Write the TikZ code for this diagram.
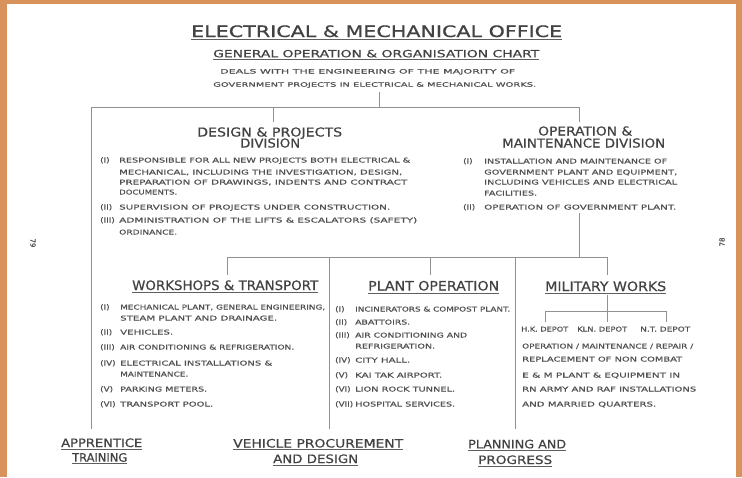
\documentclass[tikz,border=0pt]{standalone}
\usepackage{fontspec}
\setmainfont{DejaVu Sans}
\newfontfamily\lett{DejaVu Sans}[FakeBold=0.5]
\newfontfamily\lettH{DejaVu Sans}[FakeBold=0.8]
\usepackage{graphicx}
\definecolor{framec}{RGB}{216,146,92}
\definecolor{ink}{RGB}{80,80,80}
\definecolor{inkdark}{RGB}{66,66,66}
\definecolor{rulec}{RGB}{145,145,145}
\newcommand\fitto[2]{\resizebox{#1pt}{\height}{#2}}
\newcommand\lb[1]{\scalebox{1.25}[1]{#1}}
\begin{document}
\begin{tikzpicture}[x=1pt,y=-1pt,
  txt/.style={inner sep=0pt, anchor=base west, text=ink},
  ttl/.style={txt, text=inkdark, font=\lett\fontsize{15.8}{16}\selectfont},
  sub/.style={txt, text=inkdark, font=\lett\fontsize{10}{11}\selectfont},
  deal/.style={txt, font=\lett\fontsize{6}{7}\selectfont},
  div/.style={txt, text=inkdark, font=\lett\fontsize{12.3}{13}\selectfont},
  sec/.style={txt, text=inkdark, font=\lett\fontsize{13}{14}\selectfont},
  item/.style={txt, font=\lett\fontsize{6.6}{7}\selectfont},
  lab/.style={txt, font=\lett\fontsize{7}{7}\selectfont},
  bot/.style={txt, text=inkdark, font=\lett\fontsize{11.6}{12}\selectfont},
  pg/.style={inner sep=0pt, text=ink, font=\lett\fontsize{7}{7}\selectfont},
  conn/.style={draw=rulec, line width=1pt},
  uline/.style={draw=inkdark!85, line width=0.9pt}
]
\useasboundingbox (0,0) rectangle (742,477);
\fill[white] (0,0) rectangle (742,477);
\fill[framec] (0,0) rectangle (6.5,477);
\fill[framec] (0,0) rectangle (742,3.5);
\fill[framec] (736,0) rectangle (742,477);

% ---------- header ----------
\node[ttl] (t1) at (191,37) {\fitto{371}{ELECTRICAL \& MECHANICAL OFFICE}};
\node[sub] (t2) at (213,57.3) {\fitto{326}{GENERAL OPERATION \& ORGANISATION CHART}};
\node[deal] (t3) at (220,73.5) {\fitto{295}{DEALS WITH THE ENGINEERING OF THE MAJORITY OF}};
\node[deal] (t4) at (213,86.7) {\fitto{323}{GOVERNMENT PROJECTS IN ELECTRICAL \& MECHANICAL WORKS.}};
\draw[uline] ([yshift=-2.5pt]t1.base west) -- ([yshift=-2.5pt]t1.base east);
\draw[uline] ([yshift=-2.2pt]t2.base west) -- ([yshift=-2.2pt]t2.base east);

% ---------- design & projects ----------
\node[div] (d1) at (197,136.5) {\fitto{145}{DESIGN \& PROJECTS}};
\node[div] (d2) at (240,147.5) {\fitto{60}{DIVISION}};
\node[lab] (dl1) at (100,162.5) {\lb{(I)}};
\node[item] (dt1) at (119,162.5) {\fitto{291}{RESPONSIBLE FOR ALL NEW PROJECTS BOTH ELECTRICAL \&}};
\node[item] (dt1b) at (119,174.5) {\fitto{283}{MECHANICAL, INCLUDING THE INVESTIGATION, DESIGN,}};
\node[item] (dt1c) at (119,184.5) {\fitto{288}{PREPARATION OF DRAWINGS, INDENTS AND CONTRACT}};
\node[item] (dt1d) at (119,194.5) {\fitto{58}{DOCUMENTS.}};
\node[lab] (dl2) at (100,209.5) {\lb{(II)}};
\node[item] (dt2) at (119,209.5) {\fitto{271}{SUPERVISION OF PROJECTS UNDER CONSTRUCTION.}};
\node[lab] (dl3) at (100,222.5) {\lb{(III)}};
\node[item] (dt3) at (119,222.5) {\fitto{298}{ADMINISTRATION OF THE LIFTS \& ESCALATORS (SAFETY)}};
\node[item] (dt3b) at (119,234.5) {\fitto{58}{ORDINANCE.}};

% ---------- operation & maintenance ----------
\node[div] (o1) at (538,135.5) {\fitto{94}{OPERATION \&}};
\node[div] (o2) at (502,147.5) {\fitto{163}{MAINTENANCE DIVISION}};
\node[lab] (ol1) at (463,163.5) {\lb{(I)}};
\node[item] (ot1) at (484,163.5) {\fitto{183}{INSTALLATION AND MAINTENANCE OF}};
\node[item] (ot1b) at (484,174.5) {\fitto{193}{GOVERNMENT PLANT AND EQUIPMENT,}};
\node[item] (ot1c) at (484,184.5) {\fitto{193}{INCLUDING VEHICLES AND ELECTRICAL}};
\node[item] (ot1d) at (484,195.5) {\fitto{53}{FACILITIES.}};
\node[lab] (ol2) at (463,209.5) {\lb{(II)}};
\node[item] (ot2) at (484,209.5) {\fitto{192}{OPERATION OF GOVERNMENT PLANT.}};

% ---------- workshops & transport ----------
\node[sec] (w0) at (132,290) {\fitto{186}{WORKSHOPS \& TRANSPORT}};
\draw[uline] ([yshift=-2.5pt]w0.base west) -- ([yshift=-2.5pt]w0.base east);
\node[lab] (wl1) at (100,309.5) {\lb{(I)}};
\node[item] (wt1) at (120,309.5) {\fitto{205}{MECHANICAL PLANT, GENERAL ENGINEERING,}};
\node[item] (wt1b) at (120,320.5) {\fitto{157}{STEAM PLANT AND DRAINAGE.}};
\node[lab] (wl2) at (100,334.5) {\lb{(II)}};
\node[item] (wt2) at (120,334.5) {\fitto{53}{VEHICLES.}};
\node[lab] (wl3) at (100,349.5) {\lb{(III)}};
\node[item] (wt3) at (120,349.5) {\fitto{174}{AIR CONDITIONING \& REFRIGERATION.}};
\node[lab] (wl4) at (100,365.5) {\lb{(IV)}};
\node[item] (wt4) at (120,365.5) {\fitto{152}{ELECTRICAL INSTALLATIONS \&}};
\node[item] (wt4b) at (120,376.5) {\fitto{68}{MAINTENANCE.}};
\node[lab] (wl5) at (100,391.5) {\lb{(V)}};
\node[item] (wt5) at (120,391.5) {\fitto{87}{PARKING METERS.}};
\node[lab] (wl6) at (100,406.5) {\lb{(VI)}};
\node[item] (wt6) at (120,406.5) {\fitto{93}{TRANSPORT POOL.}};

% ---------- plant operation ----------
\node[sec] (p0) at (368,290.5) {\fitto{131}{PLANT OPERATION}};
\draw[uline] ([yshift=-2.5pt]p0.base west) -- ([yshift=-2.5pt]p0.base east);
\node[lab] (pl1) at (335,311.5) {\lb{(I)}};
\node[item] (pt1) at (355,311.5) {\fitto{155}{INCINERATORS \& COMPOST PLANT.}};
\node[lab] (pl2) at (335,324.5) {\lb{(II)}};
\node[item] (pt2) at (355,324.5) {\fitto{55}{ABATTOIRS.}};
\node[lab] (pl3) at (335,337.5) {\lb{(III)}};
\node[item] (pt3) at (355,337.5) {\fitto{112}{AIR CONDITIONING AND}};
\node[item] (pt3b) at (355,348.5) {\fitto{80}{REFRIGERATION.}};
\node[lab] (pl4) at (335,362.5) {\lb{(IV)}};
\node[item] (pt4) at (355,362.5) {\fitto{55}{CITY HALL.}};
\node[lab] (pl5) at (335,377.5) {\lb{(V)}};
\node[item] (pt5) at (355,377.5) {\fitto{87}{KAI TAK AIRPORT.}};
\node[lab] (pl6) at (335,391.5) {\lb{(VI)}};
\node[item] (pt6) at (355,391.5) {\fitto{100}{LION ROCK TUNNEL.}};
\node[lab] (pl7) at (335,406.5) {\lb{(VII)}};
\node[item] (pt7) at (355,406.5) {\fitto{100}{HOSPITAL SERVICES.}};

% ---------- military works ----------
\node[sec] (m0) at (545,291) {\fitto{121}{MILITARY WORKS}};
\draw[uline] ([yshift=-2.5pt]m0.base west) -- ([yshift=-2.5pt]m0.base east);
\node[item] (md1) at (521,331.5) {\fitto{47}{H.K. DEPOT}};
\node[item] (md2) at (577,331.5) {\fitto{50}{KLN. DEPOT}};
\node[item] (md3) at (640,331.5) {\fitto{50}{N.T. DEPOT}};
\node[item] (mt1) at (522,348.5) {\fitto{171}{OPERATION / MAINTENANCE / REPAIR /}};
\node[item] (mt2) at (522,361.5) {\fitto{160}{REPLACEMENT OF NON COMBAT}};
\node[item] (mt3) at (522,377.5) {\fitto{158}{E \& M PLANT \& EQUIPMENT IN}};
\node[item] (mt4) at (522,391.5) {\fitto{174}{RN ARMY AND RAF INSTALLATIONS}};
\node[item] (mt5) at (522,406.5) {\fitto{134}{AND MARRIED QUARTERS.}};

% ---------- bottom units ----------
\node[bot] (b1) at (61,447) {\fitto{81}{APPRENTICE}};
\node[bot] (b2) at (72,461.7) {\fitto{55}{TRAINING}};
\node[bot] (b3) at (233,447.5) {\fitto{170}{VEHICLE PROCUREMENT}};
\node[bot] (b4) at (273,463) {\fitto{85}{AND DESIGN}};
\node[bot] (b5) at (468,448.3) {\fitto{98}{PLANNING AND}};
\node[bot] (b6) at (478,464) {\fitto{74}{PROGRESS}};
\foreach \n in {b1,b2,b3,b4,b5,b6}
  \draw[uline] ([yshift=-2pt]\n.base west) -- ([yshift=-2pt]\n.base east);

% page numbers
\node[pg, rotate=-90] (pgL) at (33,243) {79};
\node[pg, rotate=90] (pgR) at (722,242) {78};

% ---------- connectors ----------
\coordinate (top) at (379,92);
\coordinate (jtop) at (379,107);
\coordinate (jL) at (91,107);
\coordinate (jD) at (273,107);
\coordinate (jO) at (579,107);
\coordinate (eD) at (273,122);
\coordinate (eO) at (579,122);
\coordinate (eAT) at (91,429);
\coordinate (oBot) at (579,213);
\coordinate (j2) at (579,257);
\coordinate (j2L) at (227,257);
\coordinate (j2P) at (430,257);
\coordinate (j2M) at (607,257);
\coordinate (j2V) at (329,257);
\coordinate (j2Pl) at (515,257);
\coordinate (eW) at (227,275);
\coordinate (eP) at (430,275);
\coordinate (eM) at (607,275);
\coordinate (eV) at (329,429);
\coordinate (ePl) at (515,429);
\coordinate (mS) at (607,295);
\coordinate (mJ) at (607,311);
\coordinate (mJL) at (545,311);
\coordinate (mJR) at (666,311);
\coordinate (mE1) at (545,322);
\coordinate (mE2) at (607,322);
\coordinate (mE3) at (666,322);

\draw[conn] (top) -- (jtop);
\draw[conn] (jL) -- (jO);
\draw[conn] (jD) -- (eD);
\draw[conn] (jO) -- (eO);
\draw[conn] (jL) -- (eAT);
\draw[conn] (oBot) -- (j2);
\draw[conn] (j2L) -- (j2M);
\draw[conn] (j2L) -- (eW);
\draw[conn] (j2P) -- (eP);
\draw[conn] (j2M) -- (eM);
\draw[conn] (j2V) -- (eV);
\draw[conn] (j2Pl) -- (ePl);
\draw[conn] (mS) -- (mJ);
\draw[conn] (mJL) -- (mJR);
\draw[conn] (mJL) -- (mE1);
\draw[conn] (mJ) -- (mE2);
\draw[conn] (mJR) -- (mE3);
\end{tikzpicture}
\end{document}
